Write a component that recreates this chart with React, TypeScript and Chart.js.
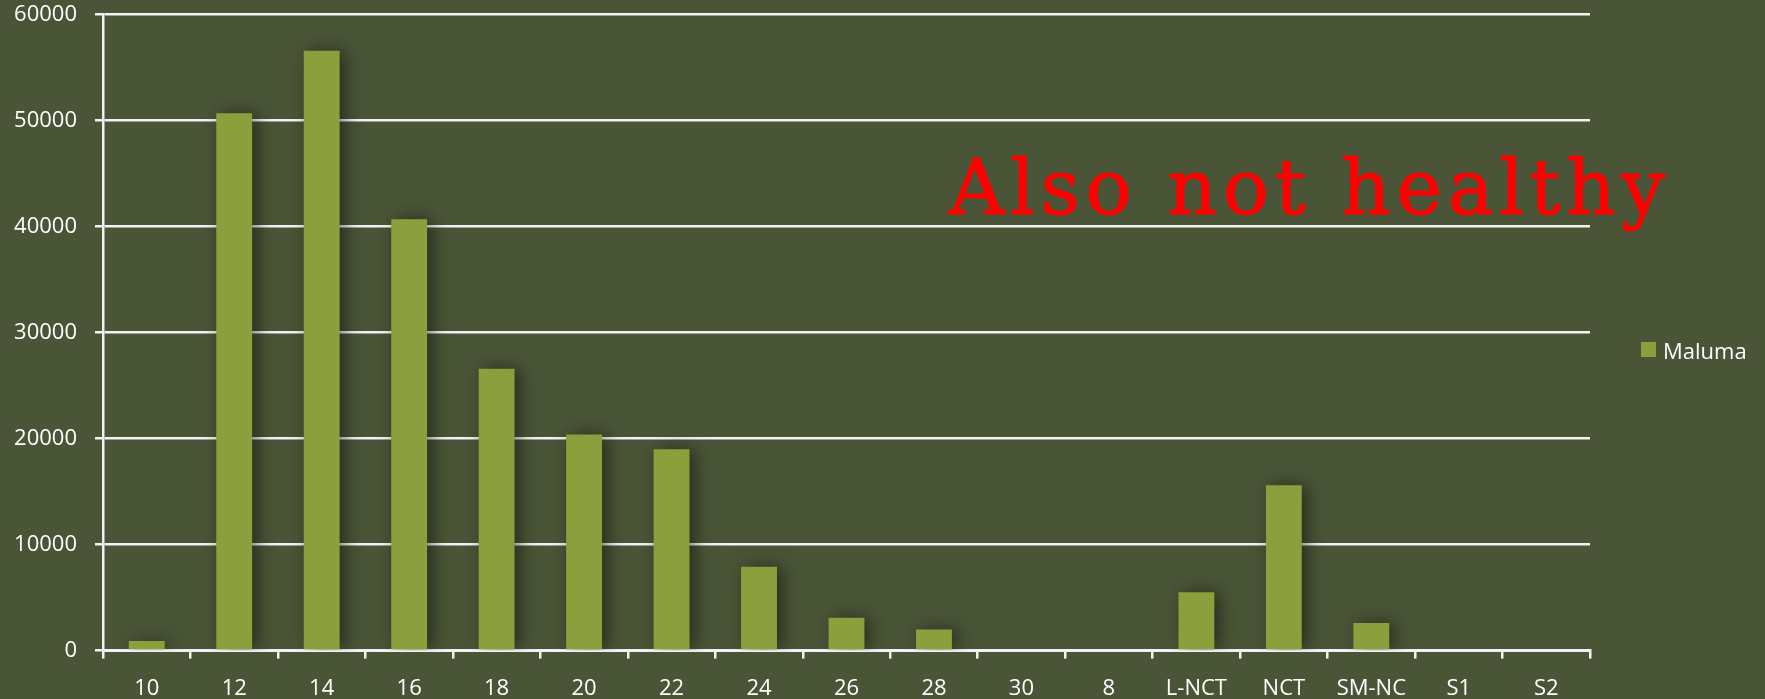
import React, { useEffect, useRef } from "react";
import { Chart, registerables } from "chart.js";

Chart.register(...registerables);

const categories = ["10", "12", "14", "16", "18", "20", "22", "24", "26", "28", "30", "8", "L-NCT", "NCT", "SM-NC", "S1", "S2"];
const malumaValues = [900, 50700, 56600, 40700, 26600, 20400, 19000, 7900, 3100, 2000, 0, 0, 5500, 15600, 2600, 0, 0];
const yTickValues = [0, 10000, 20000, 30000, 40000, 50000, 60000];
const seriesName = "Maluma";
const annotationText = "Also not healthy";

const BG = "#4a5537";
const BAR = "#8b9f3d";
const LINE = "#f2f2f2";
const FONT = "'Open Sans', 'Liberation Sans', sans-serif";

const shadowPlugin = {
  id: "barShadow",
  beforeDatasetsDraw(chart: any) {
    const ctx = chart.ctx;
    ctx.save();
    ctx.shadowColor = "rgba(0,0,0,0.5)";
    ctx.shadowBlur = 18;
    ctx.shadowOffsetX = 5;
    ctx.shadowOffsetY = 0;
  },
  afterDatasetsDraw(chart: any) {
    chart.ctx.restore();
  },
};

const annotationPlugin = {
  id: "annotationText",
  afterDraw(chart: any) {
    const ctx = chart.ctx;
    const area = chart.chartArea;
    ctx.save();
    ctx.font = "77px 'DejaVu Serif', serif";
    (ctx as any).letterSpacing = "5.6px";
    ctx.fillStyle = "#ff0000";
    ctx.strokeStyle = "#ff0000";
    ctx.lineWidth = 1;
    ctx.lineJoin = "round";
    ctx.textBaseline = "alphabetic";
    ctx.textAlign = "left";
    const x = area.left + 846;
    ctx.fillText(annotationText, x, 214);
    ctx.strokeText(annotationText, x, 214);
    ctx.restore();
  },
};

export default function App() {
  const canvasRef = useRef<HTMLCanvasElement | null>(null);

  useEffect(() => {
    document.body.style.margin = "0";
    const canvas = canvasRef.current;
    if (!canvas) return;
    const chart = new Chart(canvas, {
      type: "bar",
      data: {
        labels: categories,
        datasets: [
          {
            label: seriesName,
            data: malumaValues,
            backgroundColor: BAR,
            borderWidth: 0,
            categoryPercentage: 1,
            barPercentage: 0.41,
          },
        ],
      },
      options: {
        responsive: false,
        animation: false,
        layout: { padding: { left: 0, top: 14.7, right: 175, bottom: 0 } },
        plugins: {
          legend: { display: false },
          tooltip: { enabled: false },
        },
        scales: {
          x: {
            offset: true,
            afterFit(scale: any) {
              scale.height = 48.4;
            },
            grid: {
              display: true,
              offset: true,
              drawOnChartArea: false,
              drawTicks: true,
              tickLength: 8,
              color: LINE,
              lineWidth: 2.5,
            },
            border: { display: true, color: LINE, width: 3 },
            ticks: {
              color: "#ffffff",
              font: { family: FONT, size: 22 },
              padding: 17,
              maxRotation: 0,
              autoSkip: false,
            },
          },
          y: {
            min: 0,
            max: 60000,
            afterBuildTicks(scale: any) {
              scale.ticks = yTickValues.map((v) => ({ value: v }));
            },
            afterFit(scale: any) {
              scale.width = 103;
              scale.paddingTop = 0;
              scale.paddingBottom = 0;
            },
            grid: {
              display: true,
              drawTicks: true,
              tickLength: 8,
              color: LINE,
              lineWidth: 2.5,
            },
            border: { display: true, color: LINE, width: 2.5 },
            ticks: {
              color: "#ffffff",
              font: { family: FONT, size: 22 },
              padding: 18,
              callback: (v: any) => String(v),
            },
          },
        },
      },
      plugins: [shadowPlugin, annotationPlugin],
    });
    return () => chart.destroy();
  }, []);

  return (
    <div style={{ position: "fixed", left: 0, top: 0, width: 1765, height: 699, background: BG }}>
      <canvas ref={canvasRef} width={1765} height={699} style={{ width: 1765, height: 699, display: "block" }} />
      <div style={{ position: "absolute", left: 1641, top: 342, width: 15, height: 15, background: BAR }} />
      <div
        style={{
          position: "absolute",
          left: 1663,
          top: 335,
          fontFamily: FONT,
          fontSize: 22,
          lineHeight: "30px",
          color: "#ffffff",
          whiteSpace: "nowrap",
        }}
      >
        {seriesName}
      </div>
    </div>
  );
}
